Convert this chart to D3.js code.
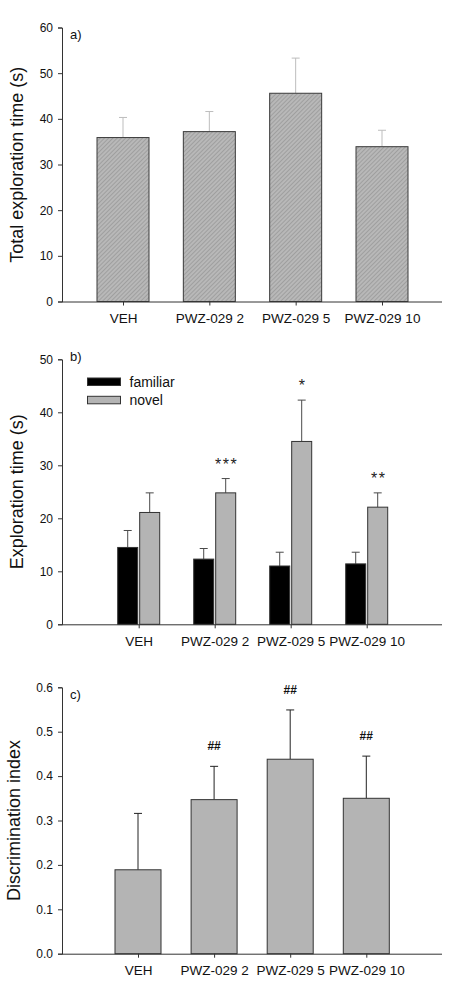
<!DOCTYPE html>
<html><head><meta charset="utf-8">
<script src="https://cdn.jsdelivr.net/npm/d3@7/dist/d3.min.js"></script>
<style>
html,body{margin:0;padding:0;background:#fff;}
svg{display:block;font-family:"Liberation Sans",Arial,sans-serif;}
</style></head>
<body>
<svg id="chart" width="472" height="995"></svg>
<script>
// ---- data ----
const categories = ["VEH", "PWZ-029 2", "PWZ-029 5", "PWZ-029 10"];
const totalMean = [35.9, 37.2, 45.6, 33.9];
const totalErr  = [4.4, 4.4, 7.7, 3.6];
const seriesNames = ["familiar", "novel"];
const familiarMean = [14.5, 12.3, 11.0, 11.4];
const familiarErr  = [3.2, 2.0, 2.6, 2.2];
const novelMean = [21.1, 24.8, 34.5, 22.1];
const novelErr  = [3.7, 2.7, 7.8, 2.7];
const sigB = ["", "***", "*", "**"];
const diMean = [0.189, 0.347, 0.438, 0.350];
const diErr  = [0.127, 0.075, 0.111, 0.095];
const sigC = ["", "##", "##", "##"];
const ticksA = [0, 10, 20, 30, 40, 50, 60];
const ticksB = [0, 10, 20, 30, 40, 50];
const ticksC = [0, 0.1, 0.2, 0.3, 0.4, 0.5, 0.6];

const svg = d3.select("#chart");
const defs = svg.append("defs");
const pat = defs.append("pattern").attr("id", "hatch")
  .attr("patternUnits", "userSpaceOnUse").attr("width", 3).attr("height", 3)
  .attr("patternTransform", "rotate(45)");
pat.append("rect").attr("width", 3).attr("height", 3).attr("fill", "#b8b8b8");
pat.append("line").attr("x1", 0).attr("y1", 0).attr("x2", 0).attr("y2", 3)
  .attr("stroke", "#8e8e8e").attr("stroke-width", 1.2);

const axisColor = "#333";
const X0 = 62, X1 = 442;

function drawAxes(g, y, ticks, fmt, yTop, yBot, x, label, labelX, letter, letterY) {
  const ya = g.append("g").attr("transform", `translate(${X0},0)`)
    .call(d3.axisLeft(y).tickValues(ticks).tickFormat(fmt).tickSizeOuter(0).tickSize(4).tickPadding(5));
  ya.select(".domain").attr("stroke", axisColor);
  ya.selectAll(".tick line").attr("stroke", axisColor);
  ya.selectAll("text").attr("font-size", 12).attr("fill", "#111")
    .attr("font-family", "Liberation Sans, Arial, sans-serif");
  // x axis
  const xa = g.append("g").attr("transform", `translate(0,${yBot})`)
    .call(d3.axisBottom(x).tickSizeOuter(0).tickSize(4).tickPadding(0).tickFormat(""));
  xa.select(".domain").attr("d", `M${X0},0.5H${X1}`).attr("stroke", axisColor);
  xa.selectAll(".tick line").attr("stroke", axisColor);
  xa.selectAll(".tick").append("text")
    .attr("y", 21.5).attr("text-anchor", "middle").attr("fill", "#111")
    .attr("font-family", "Liberation Sans, Arial, sans-serif")
    .attr("font-size", 13.5).text(d => d);
  // y label
  g.append("text")
    .attr("transform", `translate(${labelX},${(yTop + yBot) / 2}) rotate(-90)`)
    .attr("text-anchor", "middle").attr("dominant-baseline", "central")
    .attr("font-size", 18).attr("fill", "#111").text(label);
  g.append("text").attr("x", 70).attr("y", letterY)
    .attr("dominant-baseline", "central").attr("font-size", 13).attr("fill", "#111").text(letter);
}

function errBar(g, cx, yTop, yBar, color) {
  g.append("line").attr("x1", cx).attr("x2", cx).attr("y1", yBar).attr("y2", yTop)
    .attr("stroke", color).attr("stroke-width", 1);
  g.append("line").attr("x1", cx - 4).attr("x2", cx + 4).attr("y1", yTop).attr("y2", yTop)
    .attr("stroke", color).attr("stroke-width", 1);
}

// ---- panel a ----
{
  const g = svg.append("g");
  const y = d3.scaleLinear().domain([0, 60]).range([301.5, 27.5]);
  const x = d3.scalePoint().domain(categories).range([123, 382]);
  const bw = 52;
  categories.forEach((c, i) => {
    errBar(g, x(c), y(totalMean[i] + totalErr[i]), y(totalMean[i]), "#bdbdbd");
  });
  g.selectAll("rect.bar").data(categories).join("rect").attr("class", "bar")
    .attr("x", d => x(d) - bw / 2).attr("width", bw)
    .attr("y", (d, i) => y(totalMean[i])).attr("height", (d, i) => y(0) - y(totalMean[i]))
    .attr("fill", "url(#hatch)").attr("stroke", "#3a3a3a").attr("stroke-width", 1);
  drawAxes(g, y, ticksA, d3.format("d"), 28, 301.5, x, "Total exploration time (s)", 17, "a)", 34);
}

// ---- panel b ----
{
  const g = svg.append("g");
  const y = d3.scaleLinear().domain([0, 50]).range([624.3, 359.3]);
  const x = d3.scalePoint().domain(categories).range([138.7, 366.7]);
  const inner = d3.scaleBand().domain(seriesNames).range([-21, 21]).paddingInner(0.09);
  const means = {familiar: familiarMean, novel: novelMean};
  const errs = {familiar: familiarErr, novel: novelErr};
  const fills = {familiar: "#000000", novel: "#b4b4b4"};
  seriesNames.forEach(s => {
    categories.forEach((c, i) => {
      const cx = x(c) + inner(s) + inner.bandwidth() / 2;
      errBar(g, cx, y(means[s][i] + errs[s][i]), y(means[s][i]), "#4a4a4a");
    });
    g.selectAll("rect.b-" + s).data(categories).join("rect").attr("class", "b-" + s)
      .attr("x", d => x(d) + inner(s)).attr("width", inner.bandwidth())
      .attr("y", (d, i) => y(means[s][i])).attr("height", (d, i) => y(0) - y(means[s][i]))
      .attr("fill", fills[s]).attr("stroke", "#333").attr("stroke-width", 1);
  });
  categories.forEach((c, i) => {
    if (!sigB[i]) return;
    const cx = x(c) + inner("novel") + inner.bandwidth() / 2;
    g.append("text").attr("x", cx + 1).attr("y", y(novelMean[i] + novelErr[i]) - 9)
      .attr("text-anchor", "middle").attr("font-size", 16).attr("letter-spacing", 1.5)
      .attr("fill", "#222").text(sigB[i]);
  });
  // legend
  const leg = g.append("g");
  seriesNames.forEach((s, k) => {
    leg.append("rect").attr("x", 87.5).attr("y", 378 + k * 18.3).attr("width", 33).attr("height", 7.5)
      .attr("fill", fills[s]).attr("stroke", "#333").attr("stroke-width", 1);
    leg.append("text").attr("x", 129.5).attr("y", 386.5 + k * 18.3)
      .attr("font-size", 14).attr("fill", "#111").text(s);
  });
  drawAxes(g, y, ticksB, d3.format("d"), 359.3, 624.3, x, "Exploration time (s)", 17, "b)", 356.7);
}

// ---- panel c ----
{
  const g = svg.append("g");
  const y = d3.scaleLinear().domain([0, 0.6]).range([953.7, 687.3]);
  const x = d3.scalePoint().domain(categories).range([138, 366.3]);
  const bw = 46;
  categories.forEach((c, i) => {
    errBar(g, x(c), y(diMean[i] + diErr[i]), y(diMean[i]), "#222");
  });
  g.selectAll("rect.bar").data(categories).join("rect").attr("class", "bar")
    .attr("x", d => x(d) - bw / 2).attr("width", bw)
    .attr("y", (d, i) => y(diMean[i])).attr("height", (d, i) => y(0) - y(diMean[i]))
    .attr("fill", "#b4b4b4").attr("stroke", "#333").attr("stroke-width", 1);
  categories.forEach((c, i) => {
    if (!sigC[i]) return;
    g.append("text").attr("x", x(c)).attr("y", y(diMean[i] + diErr[i]) - 16)
      .attr("text-anchor", "middle").attr("font-size", 12).attr("font-weight", "bold")
      .attr("fill", "#111").text(sigC[i]);
  });
  drawAxes(g, y, ticksC, d3.format(".1f"), 687.3, 953.7, x, "Discrimination index", 14, "c)", 694.3);
}
</script>
</body></html>
